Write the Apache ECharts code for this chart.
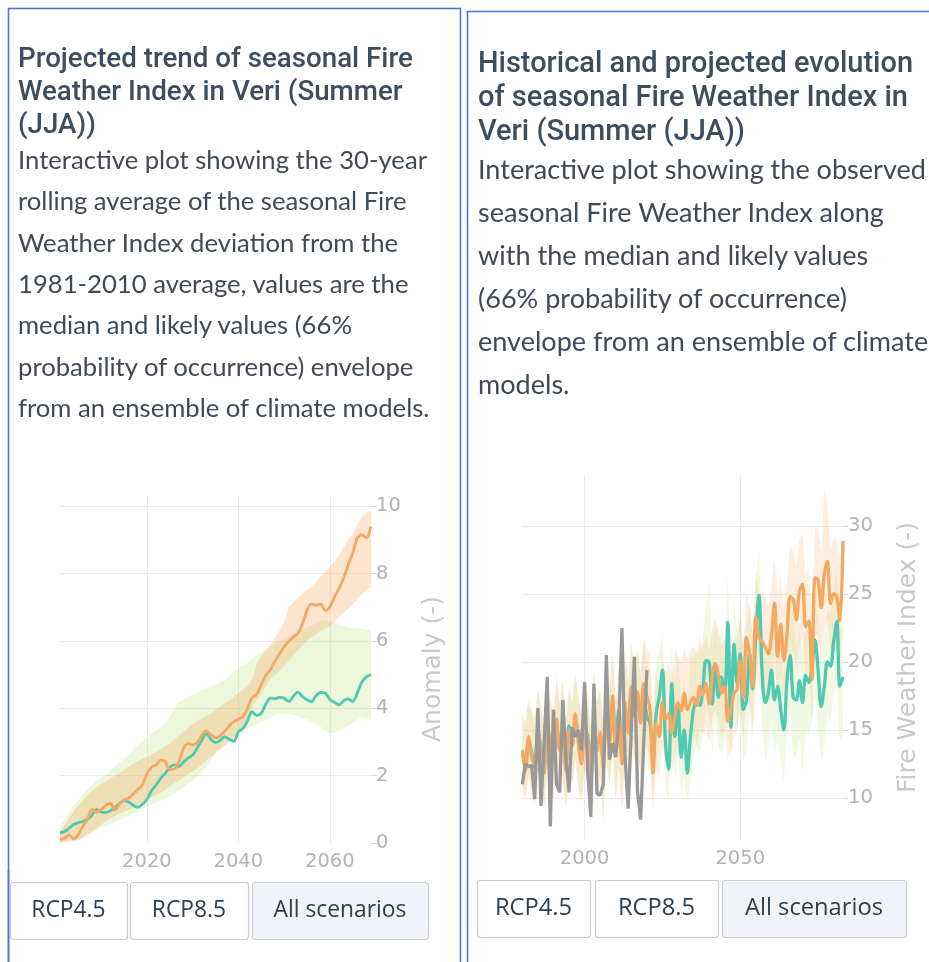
<!DOCTYPE html>
<html><head><meta charset="utf-8">
<script src="https://cdn.jsdelivr.net/npm/echarts@6/dist/echarts.min.js"></script>
<style>
html,body{margin:0;padding:0;background:#fff;width:929px;height:962px;overflow:hidden;}
#c1{position:absolute;left:0;top:470px;width:460px;height:420px;}
#c2{position:absolute;left:466px;top:460px;width:463px;height:420px;}
#ov{position:absolute;left:0;top:0;width:929px;height:962px;pointer-events:none;}
</style></head>
<body>
<div id="c1"></div><div id="c2"></div>
<svg id="ov" xmlns="http://www.w3.org/2000/svg" width="929" height="962"></svg>
<script>
// ---------- Left chart: 30-year rolling anomaly (2001-2069) ----------
const trendStart = 2001, trendEnd = 2069;
const trendRcp45 = [0.30,0.34,0.44,0.55,0.60,0.64,0.70,0.82,1.00,0.92,
  0.90,0.96,1.05,1.18,1.26,1.22,1.12,1.06,1.15,1.30,
  1.55,1.72,1.92,2.07,2.25,2.32,2.27,2.40,2.52,2.61,
  2.82,3.05,3.25,3.08,2.98,3.05,3.15,3.08,3.02,3.30,
  3.40,3.62,3.90,3.78,3.85,4.12,4.30,4.28,4.32,4.30,
  4.20,4.35,4.48,4.35,4.25,4.20,4.38,4.47,4.45,4.26,
  4.18,4.10,4.22,4.28,4.20,4.45,4.78,4.93,5.00];
const trendRcp85 = [0.10,0.14,0.24,0.12,0.25,0.50,0.70,1.00,0.92,1.00,
  1.12,1.18,0.98,1.15,1.28,1.33,1.45,1.58,1.72,2.05,
  2.25,2.32,2.46,2.42,2.18,2.20,2.40,2.80,2.95,2.91,
  2.98,3.20,3.33,3.22,3.12,3.18,3.32,3.48,3.60,3.68,
  3.74,4.00,4.32,4.42,4.70,4.98,5.15,5.40,5.62,5.82,
  5.98,6.12,6.22,6.50,6.90,7.10,7.05,7.10,6.90,7.00,
  7.30,7.55,7.85,8.25,8.60,9.05,9.15,9.05,9.40];
const trendRcp45Low = [0.00,0.02,0.05,0.07,0.09,0.14,0.22,0.30,0.38,0.46,
  0.52,0.57,0.63,0.68,0.74,0.80,0.88,0.95,1.02,1.08,
  1.13,1.19,1.25,1.31,1.37,1.46,1.56,1.66,1.76,1.85,
  1.98,2.12,2.25,2.48,2.70,2.80,2.92,3.05,3.15,3.18,
  3.28,3.38,3.46,3.52,3.58,3.65,3.72,3.80,3.85,3.84,
  3.82,3.80,3.76,3.72,3.67,3.60,3.55,3.45,3.32,3.25,
  3.28,3.33,3.40,3.48,3.55,3.65,3.75,3.70,3.65];
const trendRcp45High = [0.52,0.70,0.90,1.12,1.28,1.45,1.60,1.72,1.83,1.93,
  2.02,2.15,2.27,2.38,2.50,2.62,2.78,2.90,3.02,3.12,
  3.24,3.33,3.43,3.55,3.75,4.00,4.19,4.25,4.33,4.39,
  4.45,4.52,4.58,4.64,4.70,4.76,4.82,4.95,5.08,5.20,
  5.28,5.35,5.45,5.58,5.66,5.75,5.84,5.93,6.02,6.08,
  6.14,6.20,6.28,6.32,6.40,6.45,6.52,6.58,6.62,6.58,
  6.54,6.50,6.44,6.40,6.38,6.40,6.36,6.33,6.32];
const trendRcp85Low = [0.00,0.03,0.06,0.08,0.10,0.16,0.26,0.35,0.44,0.55,
  0.64,0.72,0.80,0.88,0.93,0.98,1.03,1.07,1.18,1.28,
  1.36,1.42,1.48,1.58,1.68,1.77,1.85,1.95,2.04,2.12,
  2.21,2.32,2.45,2.56,2.66,2.76,2.88,3.00,3.12,3.24,
  3.45,3.72,4.05,4.25,4.45,4.66,4.86,4.98,5.10,5.25,
  5.40,5.56,5.72,5.88,6.00,6.10,6.20,6.30,6.38,6.42,
  6.55,6.70,6.82,6.95,7.08,7.22,7.38,7.50,7.61];
const trendRcp85High = [0.32,0.52,0.75,0.95,1.12,1.28,1.42,1.55,1.66,1.75,
  1.84,1.91,2.00,2.08,2.17,2.26,2.35,2.43,2.50,2.55,
  2.62,2.70,2.78,2.87,2.97,3.08,3.20,3.32,3.42,3.52,
  3.62,3.70,3.78,3.85,3.95,4.05,4.14,4.24,4.35,4.45,
  4.56,4.66,4.85,5.30,5.55,5.70,5.90,6.10,6.32,6.55,
  7.00,7.15,7.28,7.40,7.51,7.62,7.75,7.92,8.06,8.20,
  8.35,8.55,8.78,9.00,9.19,9.45,9.68,9.80,9.88];
const trendYTicks = [0,2,4,6,8,10];
const trendXTicks = [2020,2040,2060];

// ---------- Right chart: annual FWI (1980-2083) ----------
const fwiStart = 1980, fwiEnd = 2083, obsEnd = 2020;
const fwiObserved = [11.0,12.5,12.3,12.4,9.9,16.6,9.4,14.0,18.9,7.9,
  16.5,11.0,10.4,17.2,13.0,10.4,15.2,14.5,15.0,13.5,
  18.5,12.0,8.6,18.4,10.3,10.2,11.0,20.5,12.8,14.0,
  13.0,15.5,22.5,13.0,9.2,15.0,20.4,10.5,8.4,14.0,19.4];
const fwiRcp45 = [13.3,12.4,14.2,13.4,12.2,15.0,13.6,12.2,15.1,14.3,
  13.1,15.4,13.9,14.1,12.5,15.3,14.6,15.6,14.4,13.0,
  15.0,14.6,12.2,15.3,14.0,14.5,12.8,15.9,14.5,16.8,
  13.8,16.5,13.2,16.6,15.2,17.5,16.4,17.0,15.8,17.6,16.0,
  15.5,13.0,16.2,17.5,19.4,14.0,12.1,18.4,14.5,16.8,
  13.0,15.0,11.8,14.5,16.5,17.2,16.8,18.0,20.1,20.0,
  16.9,19.6,17.4,18.9,17.8,22.9,15.2,21.3,18.4,20.6,
  16.5,17.2,20.6,18.0,22.0,24.9,19.4,17.0,17.7,19.4,
  17.2,18.2,16.5,15.0,18.6,20.5,17.4,17.2,18.6,17.0,
  19.0,18.5,19.6,21.6,19.4,16.7,18.2,20.0,19.7,21.5,23.0,18.2,18.9];
const fwiRcp85 = [13.5,12.0,14.5,13.0,12.5,14.8,13.2,11.8,15.5,14.0,
  12.8,15.8,13.5,14.5,12.0,15.0,13.8,16.2,14.0,12.5,
  15.5,14.2,11.5,15.8,13.5,14.8,12.2,16.5,14.0,17.5,
  13.2,15.8,12.5,17.0,14.8,18.2,16.0,17.8,15.5,18.4,17.5,
  16.5,11.8,15.5,14.5,17.0,15.8,16.2,14.8,16.0,17.0,
  16.4,17.7,16.5,17.0,17.4,16.8,18.2,17.6,18.4,16.9,
  18.9,19.9,19.0,17.7,18.2,15.6,16.5,17.7,18.0,20.1,
  17.4,21.8,20.5,18.2,23.3,21.8,21.5,21.1,20.6,21.8,
  24.3,20.4,22.8,20.1,22.0,24.8,24.6,23.1,25.2,25.7,
  22.6,23.0,18.7,26.2,26.0,24.0,26.5,27.4,24.3,25.0,24.8,23.0,28.9];
const fwiRcp85Low = [10.5,9.8,11.5,10.2,9.5,11.8,10.5,9.0,12.0,10.8,
  9.8,12.5,10.5,11.2,9.2,11.8,10.8,12.8,10.8,9.5,
  12.0,11.0,8.5,12.5,10.0,11.5,8.2,12.8,10.8,13.5,
  9.8,12.2,9.0,13.0,11.2,14.2,12.5,13.8,11.5,14.5,13.5,
  13.0,9.0,12.0,11.5,13.8,12.8,13.0,11.8,13.2,14.0,
  13.5,14.8,13.5,14.0,14.5,13.8,15.0,14.6,15.2,14.0,
  15.8,16.5,15.8,14.5,15.0,12.8,13.5,14.5,15.0,16.8,
  14.2,18.2,17.0,15.0,19.5,18.2,17.8,17.5,17.0,18.0,
  20.5,17.0,19.0,16.8,18.5,21.0,20.8,19.5,21.2,21.8,
  19.0,19.5,15.5,22.0,22.0,20.2,22.5,23.2,20.5,21.0,21.0,19.5,24.5];
const fwiRcp85High = [16.0,15.5,17.0,16.2,15.8,17.8,16.5,15.2,18.5,17.2,
  16.0,18.8,16.8,18.6,15.5,18.0,17.0,19.0,17.5,16.0,
  18.8,17.5,15.0,19.2,17.0,18.0,15.5,19.8,17.5,20.8,
  16.8,19.5,16.0,20.5,18.2,21.5,19.5,21.0,19.0,21.8,21.0,
  20.5,15.5,19.5,18.0,20.5,19.2,20.0,18.5,20.9,20.5,
  20.0,21.0,20.2,20.8,21.2,20.5,21.8,21.0,22.0,20.8,
  22.5,23.2,22.5,21.2,21.8,19.5,20.2,21.5,21.8,23.5,
  21.0,25.2,24.0,22.0,26.8,25.2,25.0,24.8,24.0,25.5,
  27.8,24.8,26.5,24.0,25.8,28.5,28.2,27.0,29.0,29.5,
  26.5,27.0,23.0,30.0,29.8,28.0,32.9,31.5,28.2,29.2,28.8,27.0,30.0];
const fwiRcp45Low = [10.8,10.0,11.8,10.5,9.8,12.0,10.8,9.2,12.2,11.0,
  10.0,12.8,10.8,11.5,9.5,12.0,11.0,13.0,11.0,9.8,
  12.2,11.2,8.8,12.8,10.2,11.8,8.5,13.0,11.0,13.2,
  10.0,12.5,9.2,13.2,11.5,14.0,12.8,13.5,11.8,14.2,12.5,
  12.0,9.8,12.8,14.0,15.8,11.0,9.5,14.8,11.2,13.0,
  10.0,11.8,9.6,11.2,13.0,13.8,13.2,14.5,16.5,16.0,
  13.2,15.8,13.8,13.3,14.0,18.8,11.8,17.5,14.8,16.5,
  12.8,13.5,16.8,14.2,18.0,20.8,15.5,12.5,13.8,15.5,
  13.2,14.2,12.8,11.2,14.5,16.5,13.2,13.0,14.5,11.6,
  15.0,14.5,15.5,17.5,15.2,12.5,14.0,16.0,15.5,17.5,19.0,14.2,14.5];
const fwiRcp45High = [16.2,15.6,17.2,16.5,16.0,18.0,16.8,15.5,18.6,17.5,
  16.2,19.0,17.0,18.8,15.8,18.2,17.2,19.2,17.8,16.2,
  19.0,17.8,15.2,19.5,17.2,18.2,15.8,20.0,17.8,20.5,
  17.0,19.8,16.2,20.8,18.5,21.2,19.8,20.8,19.2,21.5,20.0,
  19.5,16.8,19.8,21.0,22.0,17.5,15.5,21.5,18.2,20.5,
  16.8,19.0,15.5,20.5,20.2,20.8,20.5,21.8,24.0,26.0,
  20.8,23.2,21.2,22.5,21.5,26.5,19.0,24.8,22.0,24.2,
  20.2,22.6,24.2,21.8,25.8,28.5,23.0,20.8,21.5,23.0,
  21.0,22.0,20.2,18.8,22.2,24.2,23.5,21.0,22.5,20.8,
  22.8,22.2,23.2,25.5,23.0,20.5,22.0,23.8,23.5,25.2,26.8,22.0,22.8];
const fwiYTicks = [10,15,20,25,30];
const fwiXTicks = [2000,2050];

// ---------- Texts ----------
const leftTitle = ["Projected trend of seasonal Fire","Weather Index in Veri (Summer","(JJA))"];
const leftBody = ["Interactive plot showing the 30-year","rolling average of the seasonal Fire","Weather Index deviation from the","1981-2010 average, values are the","median and likely values (66%","probability of occurrence) envelope","from an ensemble of climate models."];
const rightTitle = ["Historical and projected evolution","of seasonal Fire Weather Index in","Veri (Summer (JJA))"];
const rightBody = ["Interactive plot showing the observed","seasonal Fire Weather Index along","with the median and likely values","(66% probability of occurrence)","envelope from an ensemble of climate","models."];
const buttonLabels = ["RCP4.5","RCP8.5","All scenarios"];

// ---------- helpers ----------
const COL45 = '#4fcab2', COL85 = '#f5a862', COLOBS = '#999999';
const BAND45 = 'rgba(186,226,126,0.27)', BAND85 = 'rgba(248,168,98,0.30)';
const BAND45R = 'rgba(186,226,126,0.20)', BAND85R = 'rgba(248,168,98,0.20)';
function yearsFrom(a, b){ const r=[]; for(let y=a;y<=b;y++) r.push(y); return r; }
function pairs(xs, vs){ return vs.map((v,i)=>[xs[i], v]); }
function band(name, xs, lo, hi, color){
  const data = xs.map((x,i)=>[x, lo[i], hi[i]]);
  return {
    type:'custom', name:name, data:data, silent:true, z:1,
    encode:{x:0, y:[1,2]},
    renderItem:function(params, api){
      if (params.dataIndex !== 0) return null;
      const top = data.map(d=>api.coord([d[0], d[2]]));
      const bot = data.map(d=>api.coord([d[0], d[1]])).reverse();
      return {type:'polygon', shape:{points: top.concat(bot)}, style:{fill:color}, silent:true};
    }
  };
}
function line(name, xs, vs, color, w, smooth){
  return {type:'line', name:name, data:pairs(xs, vs), symbol:'none', smooth:smooth,
    lineStyle:{color:color, width:w}, itemStyle:{color:color}, z:3};
}
const AXF = 'DejaVu Sans';
function tickFmt(list){ return v => list.some(t=>Math.abs(t-v)<1e-6) ? String(Math.round(v)) : ''; }

// ---------- Left chart ----------
const tYears = yearsFrom(trendStart, trendEnd);
const c1 = echarts.init(document.getElementById('c1'));
c1.setOption({
  animation:false,
  grid:{left:60, top:25, width:311, height:348},
  xAxis:{type:'value', min:trendStart, max:trendEnd, splitNumber:3, minInterval:20, maxInterval:20,
    axisLine:{show:false}, axisTick:{show:false},
    axisLabel:{color:'#b3b3b3', fontSize:19.5, fontFamily:AXF, margin:9, showMinLabel:false, showMaxLabel:false, formatter:tickFmt(trendXTicks)},
    splitLine:{show:true, showMinLine:false, showMaxLine:false, lineStyle:{color:'#ebebeb', width:1}}},
  yAxis:{type:'value', position:'right', min:0, max:10.33, interval:2,
    axisLine:{show:false}, axisTick:{show:true, length:6, lineStyle:{color:'#d6d6d6'}},
    axisLabel:{color:'#b3b3b3', fontSize:19.5, fontFamily:AXF, margin:5, showMaxLabel:false, formatter:tickFmt(trendYTicks)},
    splitLine:{show:true, showMinLine:false, showMaxLine:false, lineStyle:{color:'#ebebeb', width:1}},
    name:'Anomaly (-)', nameLocation:'middle', nameRotate:90, nameGap:50,
    nameTextStyle:{color:'#c9c9c9', fontSize:25, fontFamily:AXF}},
  series:[
    band('b45', tYears, trendRcp45Low, trendRcp45High, BAND45),
    band('b85', tYears, trendRcp85Low, trendRcp85High, BAND85),
    line('RCP4.5', tYears, trendRcp45, COL45, 2.8, 0.3),
    line('RCP8.5', tYears, trendRcp85, COL85, 2.8, 0.3)
  ]
});

// ---------- Right chart ----------
const fYears = yearsFrom(fwiStart, fwiEnd);
const oYears = yearsFrom(fwiStart, obsEnd);
const c2 = echarts.init(document.getElementById('c2'));
c2.setOption({
  animation:false,
  grid:{left:56.3, top:15, width:324.4, height:365},
  xAxis:{type:'value', min:fwiStart, max:fwiEnd, splitNumber:2, minInterval:50, maxInterval:50,
    axisLine:{show:false}, axisTick:{show:false},
    axisLabel:{color:'#b3b3b3', fontSize:19.5, fontFamily:AXF, margin:9, showMinLabel:false, showMaxLabel:false, formatter:tickFmt(fwiXTicks)},
    splitLine:{show:true, showMinLine:false, showMaxLine:false, lineStyle:{color:'#ebebeb', width:1}}},
  yAxis:{type:'value', position:'right', min:6.9, max:33.75, splitNumber:5, minInterval:5, maxInterval:5,
    axisLine:{show:false}, axisTick:{show:true, length:5, lineStyle:{color:'#d6d6d6'}},
    axisLabel:{color:'#b3b3b3', fontSize:19.5, fontFamily:AXF, margin:5, showMinLabel:false, showMaxLabel:false, formatter:tickFmt(fwiYTicks)},
    splitLine:{show:true, showMinLine:false, showMaxLine:false, lineStyle:{color:'#ebebeb', width:1}},
    name:'Fire Weather Index (-)', nameLocation:'middle', nameRotate:90, nameGap:53,
    nameTextStyle:{color:'#c9c9c9', fontSize:25, fontFamily:AXF}},
  series:[
    band('f45', fYears, fwiRcp45Low, fwiRcp45High, BAND45R),
    band('f85', fYears, fwiRcp85Low, fwiRcp85High, BAND85R),
    line('RCP4.5', fYears, fwiRcp45, COL45, 3.3, 0.35),
    line('RCP8.5', fYears, fwiRcp85, COL85, 3.3, 0.35),
    Object.assign(line('Observed', oYears, fwiObserved, COLOBS, 3.3, false), {z:4})
  ]
});

// ---------- Overlay: borders, texts, buttons ----------
const NS = 'http://www.w3.org/2000/svg';
const svg = document.getElementById('ov');
function el(tag, attrs){ const e=document.createElementNS(NS, tag); for(const k in attrs) e.setAttribute(k, attrs[k]); svg.appendChild(e); return e; }
function measure(str, fam, wt){
  const t = el('text', {x:0, y:-500, 'font-family':fam, 'font-weight':wt, 'font-size':100});
  t.textContent = str; const w = t.getComputedTextLength(); svg.removeChild(t); return w;
}
function block(lines, x, y0, step, fam, wt, color, refIdx, refW){
  const size = 100*refW/measure(lines[refIdx], fam, wt);
  lines.forEach((s,i)=>{ const t=el('text',{x:x, y:y0+i*step, 'font-family':fam, 'font-weight':wt, 'font-size':size.toFixed(2), fill:color}); t.textContent=s; });
}
el('rect',{x:8.5, y:8.5, width:452, height:1000, fill:'none', stroke:'#4a78d0', 'stroke-width':1.6});
el('rect',{x:467.5, y:11.5, width:500, height:1000, fill:'none', stroke:'#4a78d0', 'stroke-width':1.6});

const TITLEF = 'Roboto', BODYF = 'Lato';
block(leftTitle, 18, 66.7, 33, TITLEF, 500, '#3c4d60', 0, 395);
block(leftBody, 18, 169, 41.3, BODYF, 400, '#3f4a58', 0, 409);
block(rightTitle, 478, 71.7, 33.9, TITLEF, 500, '#3c4d60', 0, 435);
block(rightBody, 478, 179, 43, BODYF, 400, '#3f4a58', 0, 448);

function buttons(boxes, y, h, baseY, refW){
  const fam='Open Sans';
  const size = 100*refW/measure(buttonLabels[2], fam, 400);
  boxes.forEach((b,i)=>{
    el('rect',{x:b[0]+0.5, y:y+0.5, width:b[1], height:h, rx:3, ry:3, fill: i===2?'#f0f4fa':'#ffffff', stroke:'#c9cdd2', 'stroke-width':1.2});
    const t=el('text',{x:b[0]+b[1]/2, y:baseY, 'text-anchor':'middle', 'font-family':fam, 'font-size':size.toFixed(2), fill:'#2d3e50'});
    t.textContent = buttonLabels[i];
  });
}
buttons([[10,117],[130,118],[252,176]], 882, 57, 917, 133);
buttons([[477,113],[595,123],[722,184]], 880, 57, 915, 138);
el('line',{x1:8.5, y1:870, x2:8.5, y2:962, stroke:'#4a78d0', 'stroke-width':1.6});
</script>
</body></html>
